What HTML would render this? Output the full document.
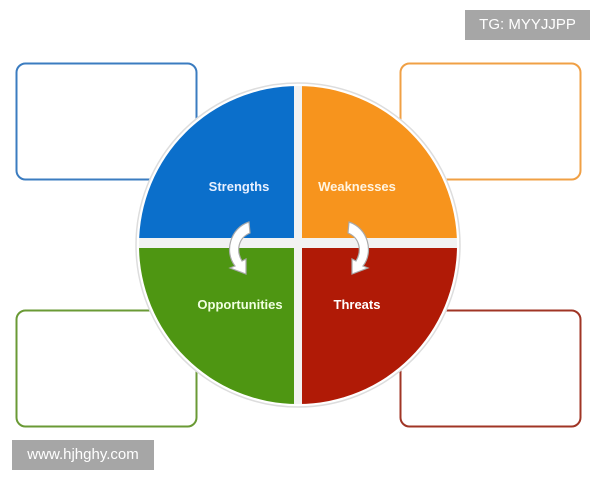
<!DOCTYPE html>
<html><head><style>
body{margin:0;width:600px;height:480px;background:#fff;overflow:hidden;position:relative;font-family:"Liberation Sans",sans-serif}
.tag{position:absolute;background:#a6a6a6;color:#fff;font-size:15px;}
</style></head><body>
<svg width="600" height="480" style="position:absolute;left:0;top:0">
<defs>
<clipPath id="c"><circle cx="298" cy="245" r="159"/></clipPath>
</defs>
<rect x="16.5" y="63.5" width="180" height="116" rx="9" fill="none" stroke="#3b7cc0" stroke-width="2"/>
<rect x="400.5" y="63.5" width="180" height="116" rx="9" fill="none" stroke="#f0a045" stroke-width="2"/>
<rect x="16.5" y="310.5" width="180" height="116" rx="9" fill="none" stroke="#6a9a35" stroke-width="2"/>
<rect x="400.5" y="310.5" width="180" height="116" rx="9" fill="none" stroke="#a03525" stroke-width="2"/>
<circle cx="298" cy="245" r="162" fill="#fff" stroke="#ddd" stroke-width="1.5"/>
<g clip-path="url(#c)">
<rect x="130" y="80" width="164" height="158" fill="#0b6fcb"/>
<rect x="302" y="80" width="165" height="158" fill="#f7941d"/>
<rect x="130" y="248" width="164" height="170" fill="#4e9612"/>
<rect x="302" y="248" width="165" height="170" fill="#b01a06"/>
<rect x="130" y="238" width="336" height="10" fill="#f2f2f2"/>
<rect x="294" y="80" width="8" height="330" fill="#f2f2f2"/>
</g>
<g fill="#fff" stroke="#aaa" stroke-width="1.2">
<path d="M249,222 C230,228 224,252 235,266 L230,268 L246,274 L246,259 L242,261 C236,251 238,238 250,233 Z"/>
<path d="M349,222 C368,228 374,252 363,266 L368,268 L352,274 L352,259 L356,261 C362,251 360,238 348,233 Z"/>
</g>
<g fill="#fff" font-size="13" font-weight="bold" font-family="Liberation Sans,sans-serif" text-anchor="middle">
<text x="239" y="191" fill="#e8f0ff">Strengths</text>
<text x="357" y="191" fill="#fff4e0">Weaknesses</text>
<text x="240" y="309" fill="#f0ffe0">Opportunities</text>
<text x="357" y="309">Threats</text>
</g>
</svg>
<div class="tag" style="left:465px;top:10px;width:125px;height:30px;line-height:30px;text-align:center">TG: MYYJJPP</div>
<div class="tag" style="left:12px;top:440px;width:142px;height:30px;line-height:30px;text-align:center">www.hjhghy.com</div>
</body></html>
